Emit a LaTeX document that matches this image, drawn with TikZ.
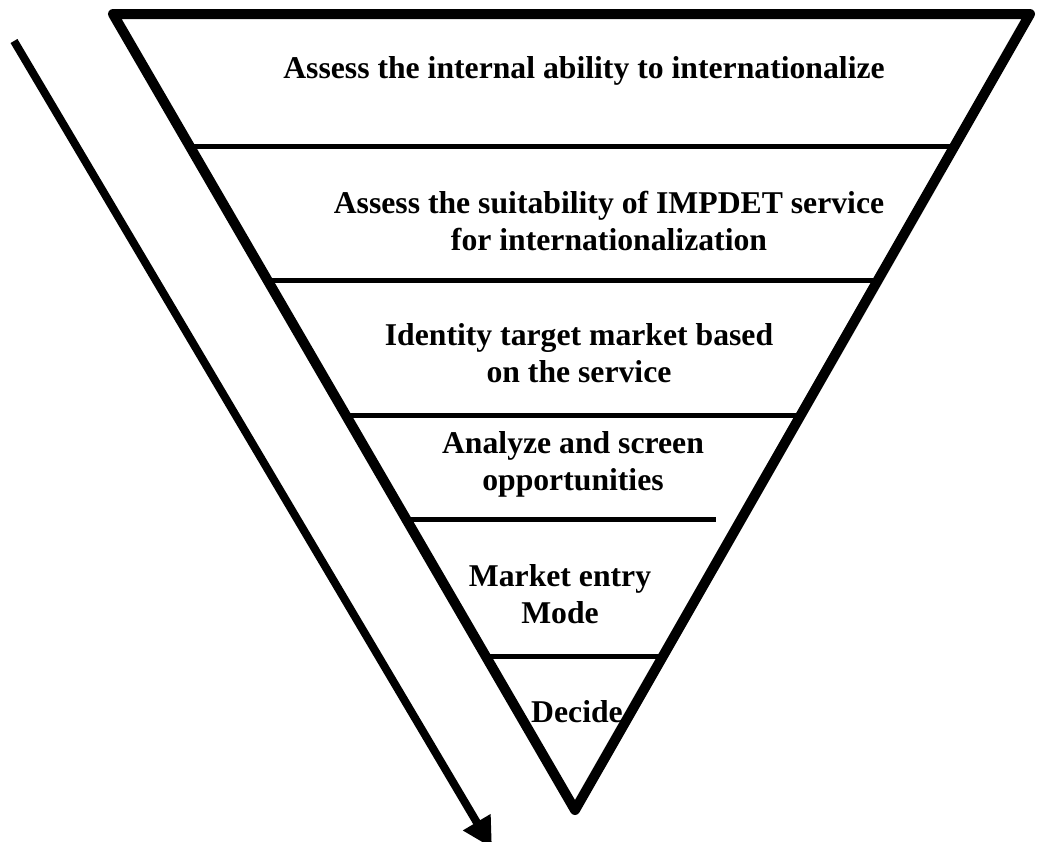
\documentclass[tikz,border=0pt]{standalone}
\usepackage{fontspec}
\setmainfont{Liberation Serif}
\usepackage{tikz}
\usetikzlibrary{arrows.meta}

\begin{document}
\begin{tikzpicture}[
    x=1pt, y=-1pt,
    every node/.style={font=\bfseries\fontsize{31.7}{36.5}\selectfont, align=center, anchor=base, inner sep=0pt},
    funnel/.style={line width=10pt, line join=round},
    divider/.style={line width=5pt},
    flow/.style={line width=8pt, -{Triangle[length=30pt, width=30pt]}}
]
    \useasboundingbox (0,0) rectangle (1040,841);

    \coordinate (topl) at (113,14);
    \coordinate (topr) at (1030,14);
    \coordinate (apex) at (575,810);
    \draw[funnel] (topl) -- (topr) -- (apex) -- cycle;

    \draw[divider] (190,146) -- (958,146);
    \draw[divider] (266,280) -- (882,280);
    \draw[divider] (343,415) -- (797,415);
    \draw[divider] (406,519) -- (716,519);
    \draw[divider] (487,656) -- (663,656);

    \node (ability) at (584,78) {Assess the internal ability to internationalize};
    \node (suit) at (609,250) {Assess the suitability of IMPDET service\\for internationalization};
    \node (target) at (579,382) {Identity target market based\\on the service};
    \node (screen) at (573,490) {Analyze and screen\\opportunities};
    \node (entry) at (560,623) {Market entry\\Mode};
    \node (decide) at (577,722) {Decide};

    \coordinate (flowtop) at (14,41);
    \coordinate (flowend) at (492,848);
    \draw[flow] (flowtop) -- (flowend);
\end{tikzpicture}
\end{document}
